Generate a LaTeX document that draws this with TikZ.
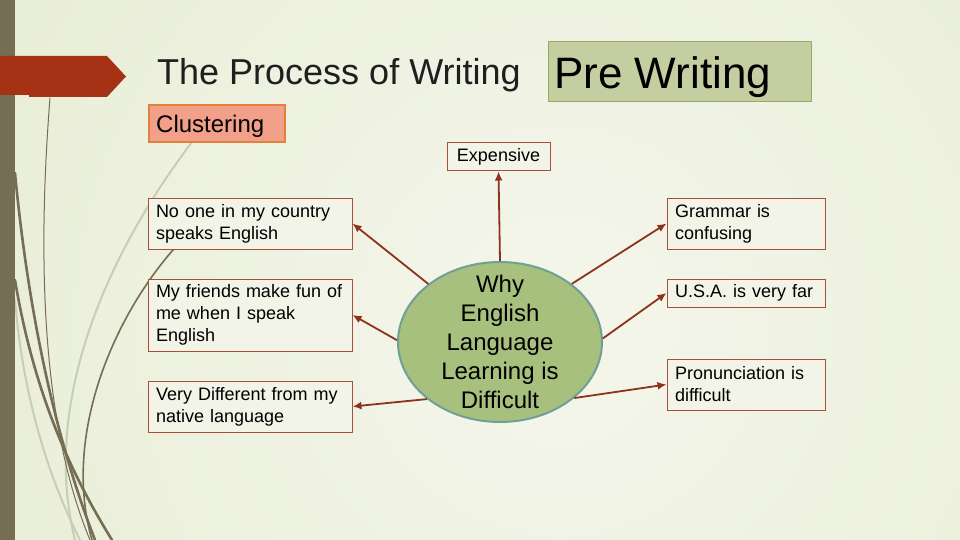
\documentclass[tikz,border=0pt]{standalone}
\usepackage{fontspec}
\setmainfont{Liberation Sans}
\usetikzlibrary{arrows.meta,shapes.geometric}
\definecolor{bgin}{RGB}{244,246,235}
\definecolor{bgout}{RGB}{222,230,196}
\definecolor{barc}{RGB}{118,109,85}
\definecolor{redarrow}{RGB}{166,50,22}
\definecolor{wispdark}{RGB}{118,109,85}
\definecolor{wisplight}{RGB}{200,206,180}
\definecolor{prefill}{RGB}{196,206,160}
\definecolor{preborder}{RGB}{150,170,100}
\definecolor{clufill}{RGB}{243,160,138}
\definecolor{cluborder}{RGB}{226,128,62}
\definecolor{ellfill}{RGB}{168,192,126}
\definecolor{ellborder}{RGB}{110,160,150}
\definecolor{conncol}{RGB}{140,50,30}
\definecolor{boxborder}{RGB}{165,80,55}
\definecolor{boxfill}{RGB}{241,244,230}
\tikzset{
  reasonbox/.style={draw=boxborder, line width=1pt, fill=boxfill, inner xsep=8pt, inner ysep=0pt,
    align=left, font=\fontsize{18}{22}\selectfont},
  conn/.style={draw=conncol, line width=1.8pt, -{Latex[length=9pt,width=8pt]}},
  wisp/.style={draw=wispdark, line cap=round},
  wispl/.style={draw=wisplight, line cap=round}
}
\begin{document}
\begin{tikzpicture}[x=1pt,y=-1pt]
\useasboundingbox (0,0) rectangle (960,540);
% background
\begin{scope}
\clip (0,0) rectangle (960,540);
\shade[inner color=bgin, outer color=bgout] (560,330) circle (1250);
\end{scope}
% wisps
\draw[wispl, line width=2pt] (192,142) .. controls (110,250) and (40,400) .. (75,540);
\draw[wispl, line width=2pt] (15,300) .. controls (25,420) and (60,500) .. (80,540);
\draw[wisp, line width=1pt] (50,98) .. controls (38,250) and (40,420) .. (90,540);
\draw[wisp, line width=2.6pt] (15,173) .. controls (30,330) and (60,450) .. (95,540);
\draw[wisp, line width=2.6pt] (15,280) .. controls (35,400) and (75,480) .. (112,540);
\draw[wisp, line width=1.6pt] (190,232) .. controls (120,300) and (60,430) .. (92,540);
% left bar
\fill[barc] (0,0) rectangle (15,540);
% red arrow
\fill[redarrow] (0,56) -- (107,56) -- (126,76.5) -- (107,97) -- (29,97) -- (29,95) -- (0,95) -- cycle;
% titles
\node[anchor=base west, inner sep=0pt, text=black!88, font=\fontsize{36}{40}\selectfont] (title) at (157,85) {The Process of Writing};
\node[draw=preborder, line width=1pt, fill=prefill, minimum width=263pt, minimum height=60pt, inner sep=0pt] (pre) at (679.5,72) {};
\node[anchor=base west, inner sep=0pt, font=\fontsize{44}{50}\selectfont] (pretext) at (554,89) {Pre Writing};
\node[draw=cluborder, line width=1.5pt, fill=clufill, minimum width=136pt, minimum height=37pt, inner sep=0pt] (clu) at (217,123.5) {};
\node[anchor=base west, inner sep=0pt, font=\fontsize{24}{28}\selectfont] (clutext) at (156,133) {Clustering};
% center
\node[ellipse, draw=ellborder, line width=2pt, fill=ellfill, minimum width=204pt, minimum height=160pt,
  inner sep=0pt] (c) at (500,342) {};
\node[align=center, inner sep=0pt, font=\fontsize{24}{29}\selectfont] (ctext) at (c.center) {Why\\English\\Language\\Learning is\\Difficult};
% boxes
\node[reasonbox, minimum height=28pt, text width=87pt, align=center] (exp) at (498.5,157) {Expensive};
\node[reasonbox, minimum height=51pt, text width=188pt] (b1) at (250,223.5) {No one in my country\\speaks English};
\node[reasonbox, minimum height=72pt, text width=188pt] (b2) at (250,315) {My friends make fun of\\me when I speak\\English};
\node[reasonbox, minimum height=51pt, text width=188pt] (b3) at (250,406.5) {Very Different from my\\native language};
\node[reasonbox, minimum height=51pt, text width=142pt] (b4) at (746,223.5) {Grammar is\\confusing};
\node[reasonbox, minimum height=28pt, text width=142pt] (b5) at (746,293) {U.S.A. is very far};
\node[reasonbox, minimum height=51pt, text width=142pt] (b6) at (746,384.5) {Pronunciation is\\difficult};
% connectors
\draw[conn] (c.90) -- (exp.south);
\draw[conn] (c.141) -- (b1.east);
\draw[conn] (c.179) -- (b2.east);
\draw[conn] (c.218) -- (b3.east);
\draw[conn] (c.39) -- (b4.west);
\draw[conn] (c.2) -- (b5.west);
\draw[conn] (c.-37) -- (b6.west);
\end{tikzpicture}
\end{document}
